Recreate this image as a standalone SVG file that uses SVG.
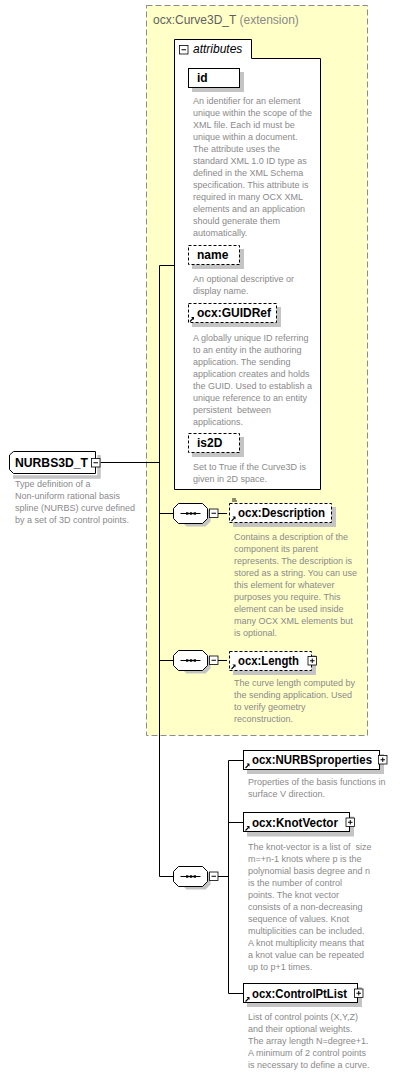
<svg xmlns="http://www.w3.org/2000/svg" width="410" height="1075" viewBox="0 0 410 1075">
<style>
.lbl{font-family:"Liberation Sans",Arial,sans-serif;font-size:12px;font-weight:bold;fill:#000}
.desc{font-family:"Liberation Sans",Arial,sans-serif;font-size:9px;fill:#8a8a8a;white-space:pre}
.ttl{font-family:"Liberation Sans",Arial,sans-serif;font-size:12px}
.box{fill:#fff;stroke:#000;stroke-width:1}
.opt{fill:#fff;stroke:#000;stroke-width:1;stroke-dasharray:3,2}
.shd{fill:#c4c4c4}
.ln{stroke:#000;stroke-width:1;fill:none}
.pm{fill:#fff;stroke:#000;stroke-width:0.8}
</style>
<defs>
<g id="refarrow"><path d="M0.5,4.5 L3.5,1.5" stroke="#000" stroke-width="1.1" fill="none"/><path d="M1.5,0 L4.5,0 L4.5,3 Z" fill="#000"/></g>
<g id="minus"><rect x="0.5" y="0.5" width="8.5" height="8.5" class="pm"/><path d="M2.5,4.75 H7" stroke="#000" stroke-width="1"/></g>
<g id="plus"><rect x="0.5" y="0.5" width="8.5" height="8.5" class="pm"/><path d="M2.5,4.75 H7 M4.75,2.5 V7" stroke="#000" stroke-width="1"/></g>
<g id="seq"><path d="M5,5 L10,0 H29 L34,5 V15 L29,20 H10 L5,15 Z" class="shd" transform="translate(3,3)"/><path d="M0,5 L5,0 H29 L34,5 V15 L29,20 H5 L0,15 Z" fill="#fff" stroke="#000" stroke-width="1"/><path d="M7,10 H27" stroke="#000" stroke-width="1"/><rect x="12.5" y="8.8" width="2.4" height="2.4"/><rect x="16.3" y="8.8" width="2.4" height="2.4"/><rect x="20.1" y="8.8" width="2.4" height="2.4"/></g>
</defs>

<g id="extension">
<rect x="146.5" y="5.5" width="221" height="730" fill="#ffffc8" stroke="#8c8c8c" stroke-width="1" stroke-dasharray="6,3"/>
<text x="153" y="24" class="ttl"><tspan fill="#5f5f5f">ocx:Curve3D_T</tspan><tspan fill="#8a8a8a"> (extension)</tspan></text>
</g>

<g id="attributes">
<path d="M174.5,489.5 V39.5 H251.5 V58.5 H320.5 V489.5 Z" class="box"/>
<use href="#minus" x="179" y="45"/>
<text x="193" y="53" class="ttl" font-style="italic" fill="#000">attributes</text>
</g>

<g id="connectors">
<path d="M100,462.5 H159.5 M159.5,265.5 V876.5 M159.5,265.5 H174 M159.5,513.5 H174 M159.5,660.5 H174 M159.5,876.5 H174" class="ln"/>
<path d="M218,513.5 H227 M218,660.5 H227 M218,876.5 H228.5 M228.5,760.5 V993.5 M228.5,760.5 H243 M228.5,822.5 H243 M228.5,993.5 H243" class="ln"/>
</g>

<g id="NURBS3D_T">
<path d="M13,477 H99 V455" fill="none" stroke="#c4c4c4" stroke-width="3.5"/>
<path d="M9.5,455 L13.5,451.5 H95.5 V473.5 H13.5 L9.5,469.5 Z" fill="#fff" stroke="#000" stroke-width="1"/>
<text x="15" y="467" class="lbl" textLength="73" lengthAdjust="spacingAndGlyphs">NURBS3D_T</text>
<use href="#minus" x="91" y="458"/>
<text class="desc"><tspan x="15" y="487">Type definition of a</tspan><tspan x="15" y="499">Non-uniform rational basis</tspan><tspan x="15" y="511">spline (NURBS) curve defined</tspan><tspan x="15" y="523">by a set of 3D control points.</tspan></text>
</g>

<g id="id">
<rect x="192" y="72" width="52" height="20" class="shd"/>
<rect x="188.5" y="68.5" width="51" height="19" class="box"/>
<text x="197" y="82" class="lbl">id</text>
<text class="desc"><tspan x="193" y="104">An identifier for an element</tspan><tspan x="193" y="116">unique within the scope of the</tspan><tspan x="193" y="128">XML file. Each id must be</tspan><tspan x="193" y="140">unique within a document.</tspan><tspan x="193" y="152">The attribute uses the</tspan><tspan x="193" y="164">standard XML 1.0 ID type as</tspan><tspan x="193" y="176">defined in the XML Schema</tspan><tspan x="193" y="188">specification. This attribute is</tspan><tspan x="193" y="200">required in many OCX XML</tspan><tspan x="193" y="212">elements and an application</tspan><tspan x="193" y="224">should generate them</tspan><tspan x="193" y="236">automatically.</tspan></text>
</g>

<g id="name">
<rect x="192" y="249" width="52" height="20" class="shd"/>
<rect x="188.5" y="245.5" width="51" height="19" class="opt"/>
<text x="197" y="259" class="lbl">name</text>
<text class="desc"><tspan x="193" y="282">An optional descriptive or</tspan><tspan x="193" y="294">display name.</tspan></text>
</g>

<g id="GUIDRef">
<rect x="192" y="307" width="89" height="20" class="shd"/>
<rect x="188.5" y="303.5" width="88" height="19" class="opt"/>
<use href="#refarrow" x="189.5" y="317"/>
<text x="197" y="317" class="lbl" textLength="74" lengthAdjust="spacingAndGlyphs">ocx:GUIDRef</text>
<text class="desc"><tspan x="193" y="341">A globally unique ID referring</tspan><tspan x="193" y="353">to an entity in the authoring</tspan><tspan x="193" y="365">application. The sending</tspan><tspan x="193" y="377">application creates and holds</tspan><tspan x="193" y="389">the GUID. Used to establish a</tspan><tspan x="193" y="401">unique reference to an entity</tspan><tspan x="193" y="413">persistent  between</tspan><tspan x="193" y="425">applications.</tspan></text>
</g>

<g id="is2D">
<rect x="192" y="437" width="52" height="20" class="shd"/>
<rect x="188.5" y="433.5" width="51" height="19" class="opt"/>
<text x="197" y="447" class="lbl">is2D</text>
<text class="desc"><tspan x="193" y="470">Set to True if the Curve3D is</tspan><tspan x="193" y="482">given in 2D space.</tspan></text>
</g>

<g id="sequence1">
<use href="#seq" x="173.5" y="503.5"/>
<use href="#minus" x="209" y="508.5"/>
</g>

<g id="Description">
<rect x="233" y="507" width="103" height="20" class="shd"/>
<rect x="229.5" y="503.5" width="102" height="19" class="opt"/>
<path d="M232,499 H236 M232,501 H237" stroke="#000" stroke-width="0.9"/>
<use href="#refarrow" x="231" y="516.5"/>
<text x="238" y="517" class="lbl" textLength="87" lengthAdjust="spacingAndGlyphs">ocx:Description</text>
<text class="desc"><tspan x="234" y="540">Contains a description of the</tspan><tspan x="234" y="552">component its parent</tspan><tspan x="234" y="564">represents. The description is</tspan><tspan x="234" y="576">stored as a string. You can use</tspan><tspan x="234" y="588">this element for whatever</tspan><tspan x="234" y="600">purposes you require. This</tspan><tspan x="234" y="612">element can be used inside</tspan><tspan x="234" y="624">many OCX XML elements but</tspan><tspan x="234" y="636">is optional.</tspan></text>
</g>

<g id="sequence2">
<use href="#seq" x="173.5" y="650.5"/>
<use href="#minus" x="209" y="655.5"/>
</g>

<g id="Length">
<rect x="233" y="655" width="83" height="20" class="shd"/>
<rect x="229.5" y="651.5" width="82" height="19" class="opt"/>
<use href="#refarrow" x="231" y="664.5"/>
<text x="238" y="665" class="lbl" textLength="61" lengthAdjust="spacingAndGlyphs">ocx:Length</text>
<use href="#plus" x="307.5" y="656"/>
<text class="desc"><tspan x="234" y="686">The curve length computed by</tspan><tspan x="234" y="698">the sending application. Used</tspan><tspan x="234" y="710">to verify geometry</tspan><tspan x="234" y="722">reconstruction.</tspan></text>
</g>

<g id="sequence3">
<use href="#seq" x="173.5" y="866.5"/>
<use href="#minus" x="209" y="871.5"/>
</g>

<g id="NURBSproperties">
<rect x="247" y="754" width="137" height="20" class="shd"/>
<rect x="243.5" y="750.5" width="136" height="19" class="box"/>
<use href="#refarrow" x="245" y="763.5"/>
<text x="252" y="764" class="lbl" textLength="120" lengthAdjust="spacingAndGlyphs">ocx:NURBSproperties</text>
<use href="#plus" x="378" y="755"/>
<text class="desc"><tspan x="248" y="785">Properties of the basis functions in</tspan><tspan x="248" y="797">surface V direction.</tspan></text>
</g>

<g id="KnotVector">
<rect x="247" y="816.5" width="107" height="20" class="shd"/>
<rect x="243.5" y="812.5" width="106" height="19" class="box"/>
<use href="#refarrow" x="245" y="826"/>
<text x="252" y="826.5" class="lbl" textLength="86" lengthAdjust="spacingAndGlyphs">ocx:KnotVector</text>
<use href="#plus" x="345.5" y="817.5"/>
<text class="desc"><tspan x="248" y="850">The knot-vector is a list of  size</tspan><tspan x="248" y="862">m=+n-1 knots where p is the</tspan><tspan x="248" y="874">polynomial basis degree and n</tspan><tspan x="248" y="886">is the number of control</tspan><tspan x="248" y="898">points. The knot vector</tspan><tspan x="248" y="910">consists of a non-decreasing</tspan><tspan x="248" y="922">sequence of values. Knot</tspan><tspan x="248" y="934">multiplicities can be included.</tspan><tspan x="248" y="946">A knot multiplicity means that</tspan><tspan x="248" y="958">a knot value can be repeated</tspan><tspan x="248" y="970">up to p+1 times.</tspan></text>
</g>

<g id="ControlPtList">
<rect x="247" y="987" width="115" height="20" class="shd"/>
<rect x="243.5" y="983.5" width="114" height="19" class="box"/>
<use href="#refarrow" x="245" y="997"/>
<text x="252" y="997.5" class="lbl" textLength="95" lengthAdjust="spacingAndGlyphs">ocx:ControlPtList</text>
<use href="#plus" x="354" y="988.5"/>
<text class="desc"><tspan x="248" y="1020">List of control points (X,Y,Z)</tspan><tspan x="248" y="1032">and their optional weights.</tspan><tspan x="248" y="1044">The array length N=degree+1.</tspan><tspan x="248" y="1056">A minimum of 2 control points</tspan><tspan x="248" y="1068">is necessary to define a curve.</tspan></text>
</g>
</svg>
